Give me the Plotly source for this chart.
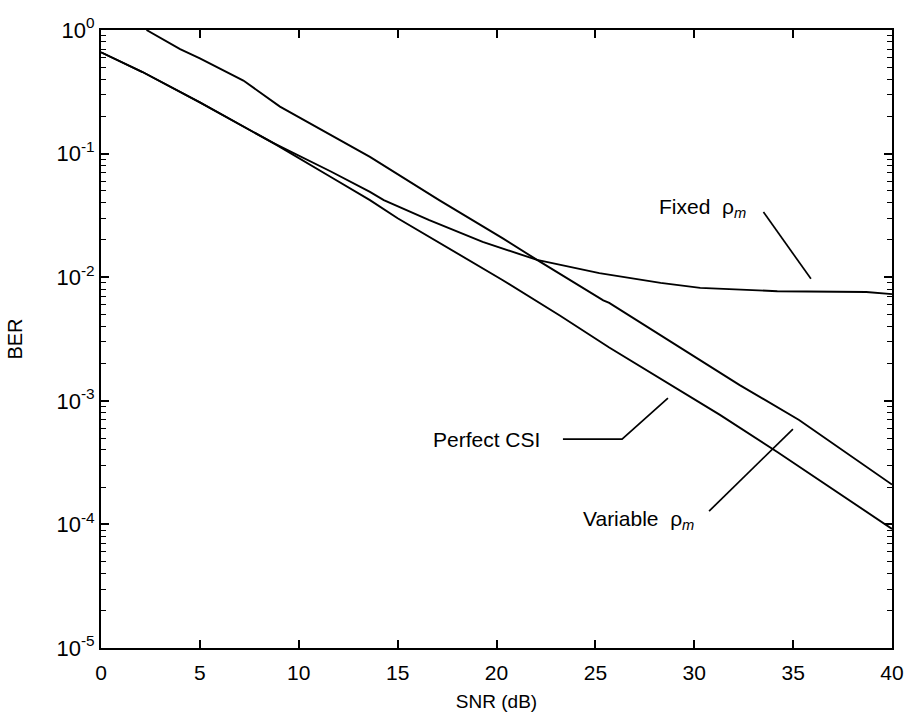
import math
import plotly.graph_objects as go

# ---- data ----
snr_variable = [2.3, 4.0, 5.0, 7.2, 9.05, 13.0, 13.6, 17.1, 20.3, 22.05, 25.4, 25.7, 32.3, 35.3, 40.0]
ber_variable = [1.0, 0.70, 0.59, 0.39, 0.24, 0.107, 0.094, 0.042, 0.0207, 0.0138, 0.0065, 0.0062, 0.00134, 0.0007, 0.00021]

snr_perfect = [0, 2.1, 5.0, 8.7, 11.6, 13.6, 15.0, 20.3, 23.2, 25.7, 31.3, 34.2, 40.0]
ber_perfect = [0.66, 0.457, 0.26, 0.122, 0.065, 0.042, 0.030, 0.0095, 0.0049, 0.0027, 0.00077, 0.000385, 0.000092]

snr_fixed = [0, 2.1, 5.0, 8.7, 11.6, 13.6, 14.3, 16.6, 19.3, 22.05, 25.2, 28.3, 30.3, 34.2, 38.7, 40.0]
ber_fixed = [0.66, 0.457, 0.26, 0.122, 0.072, 0.049, 0.042, 0.029, 0.0193, 0.0138, 0.0108, 0.0090, 0.0082, 0.0077, 0.0076, 0.0073]

x_ticks = [0, 5, 10, 15, 20, 25, 30, 35, 40]
y_ticks = [1e-5, 1e-4, 1e-3, 1e-2, 1e-1, 1]
y_tick_text = ["10<sup>-5</sup>", "10<sup>-4</sup>", "10<sup>-3</sup>", "10<sup>-2</sup>", "10<sup>-1</sup>", "10<sup>0</sup>"]

# leader lines for labels (data coordinates)
fixed_leader_x = [33.5, 35.9]
fixed_leader_y = [0.0337, 0.0097]
perfect_leader_x = [23.36, 26.35, 28.67]
perfect_leader_y = [4.9e-4, 4.9e-4, 1.05e-3]
variable_leader_x = [30.75, 34.99]
variable_leader_y = [1.28e-4, 5.9e-4]

label_fixed = "Fixed  ρ<sub><i>m</i></sub>"
label_perfect = "Perfect CSI"
label_variable = "Variable  ρ<sub><i>m</i></sub>"

FONT = "Liberation Sans, Arial, Helvetica, sans-serif"
line_style = dict(color="black", width=1.9)

fig = go.Figure()
for xs, ys in [(snr_variable, ber_variable), (snr_perfect, ber_perfect), (snr_fixed, ber_fixed)]:
    fig.add_trace(go.Scatter(x=xs, y=ys, mode="lines", line=line_style, showlegend=False, hoverinfo="skip"))
for xs, ys in [(fixed_leader_x, fixed_leader_y), (perfect_leader_x, perfect_leader_y), (variable_leader_x, variable_leader_y)]:
    fig.add_trace(go.Scatter(x=xs, y=ys, mode="lines", line=dict(color="black", width=1.7), showlegend=False, hoverinfo="skip"))

minor_vals = [m * 10 ** e for e in range(-5, 0) for m in range(2, 10)]

label_font = dict(size=21, family=FONT, color="black")
fig.add_annotation(x=30.4, y=math.log10(0.036), xref="x", yref="y", text=label_fixed,
                   showarrow=False, xanchor="center", yanchor="middle", font=label_font)
fig.add_annotation(x=19.5, y=math.log10(4.9e-4), xref="x", yref="y", text=label_perfect,
                   showarrow=False, xanchor="center", yanchor="middle", font=label_font)
fig.add_annotation(x=27.2, y=math.log10(1.08e-4), xref="x", yref="y", text=label_variable,
                   showarrow=False, xanchor="center", yanchor="middle", font=label_font)

fig.update_layout(
    width=912, height=712,
    margin=dict(l=101, r=20, t=30, b=64),
    paper_bgcolor="white", plot_bgcolor="white",
    font=dict(family=FONT, size=19, color="black"),
    xaxis=dict(
        range=[0, 40], tickvals=x_ticks, ticks="inside", ticklen=8, tickwidth=1.5, tickcolor="black",
        showline=True, linecolor="black", linewidth=2, mirror="ticks", showgrid=False, zeroline=False,
        title=dict(text="SNR (dB)", font=dict(size=19), standoff=13),
        tickfont=dict(size=21), ticklabelstandoff=5, automargin=False,
    ),
    yaxis=dict(
        type="log", range=[-5, 0], tickvals=y_ticks, ticktext=y_tick_text,
        ticks="inside", ticklen=8, tickwidth=1.5, tickcolor="black",
        showline=True, linecolor="black", linewidth=2, mirror="ticks", showgrid=False, zeroline=False,
        minor=dict(tickvals=minor_vals, ticks="inside", ticklen=5, tickwidth=1.2, tickcolor="black", showgrid=False),
        title=dict(text="BER", font=dict(size=20), standoff=28),
        tickfont=dict(size=22), automargin=False,
    ),
)

fig.write_html("out.html")
